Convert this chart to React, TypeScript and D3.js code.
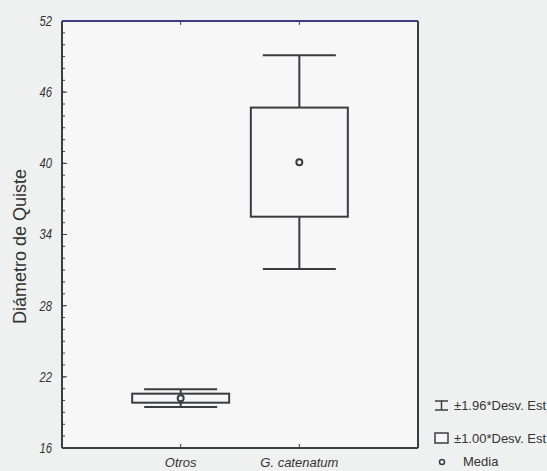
import React from "react";
import * as d3 from "d3";

const categories = ["Otros", "G. catenatum"];
const means = [20.2, 40.1];
const sd = [0.38, 4.6];
const yTicks = [16, 22, 28, 34, 40, 46, 52];
const legendLabels = ["±1.96*Desv. Est", "±1.00*Desv. Est", "Media"];

const W = 547;
const H = 471;
const margin = { top: 21, right: 129, bottom: 23, left: 62 };

export default function App() {
  const x = d3
    .scalePoint<string>()
    .domain(categories)
    .range([margin.left, W - margin.right])
    .padding(1);
  const y = d3
    .scaleLinear()
    .domain([16, 52])
    .range([H - margin.bottom, margin.top]);

  const x0 = margin.left;
  const x1 = W - margin.right;
  const yb = H - margin.bottom;
  const yt = margin.top;
  const minor = d3.range(16, 53, 1);
  const boxW = 97;
  const capW = 73;
  const ink = "#3c3c44";
  const lx = 52;

  return (
    <svg
      width={W}
      height={H}
      style={{ position: "absolute", left: 0, top: 0, background: "#eff1f1" }}
      fontFamily="'Liberation Sans', Arial, sans-serif"
    >
      <rect x={x0} y={yt} width={x1 - x0} height={yb - yt} fill="#f6f7f6" />
      {/* minor ticks, inward */}
      {minor.map((v) => (
        <line key={v} x1={x0} x2={x0 + 3} y1={y(v)} y2={y(v)} stroke={ink} strokeWidth={1} />
      ))}
      {yTicks.map((v) => (
        <g key={v}>
          <line x1={x0} x2={x0 + 5} y1={y(v)} y2={y(v)} stroke={ink} />
          <text
            x={lx}
            y={y(v) + 5}
            textAnchor="end"
            fontSize={15}
            fontStyle="italic"
            fill="#333"
            transform={`translate(${lx},0) scale(0.75,1) translate(${-lx},0)`}
          >
            {v}
          </text>
        </g>
      ))}
      {categories.map((c) => (
        <g key={c}>
          <line x1={x(c)!} x2={x(c)!} y1={yb} y2={yb - 4} stroke={ink} />
          <line x1={x(c)!} x2={x(c)!} y1={yt} y2={yt + 4} stroke={ink} />
          <text
            x={x(c)!}
            y={yb + 19}
            textAnchor="middle"
            fontSize={13}
            fontStyle="italic"
            fill="#333"
          >
            {c}
          </text>
        </g>
      ))}
      {/* frame */}
      <line x1={x0} x2={x0} y1={yt} y2={yb} stroke={ink} strokeWidth={2} />
      <line x1={x0} x2={x1} y1={yb} y2={yb} stroke={ink} strokeWidth={2} />
      <line x1={x1} x2={x1} y1={yt} y2={yb} stroke={ink} strokeWidth={2} />
      <line x1={x0} x2={x1} y1={yt} y2={yt} stroke="#3d3f86" strokeWidth={2} />

      {categories.map((c, i) => {
        const cx = x(c)!;
        const m = means[i];
        const s = sd[i];
        const hi = y(m + 1.96 * s);
        const lo = y(m - 1.96 * s);
        return (
          <g key={c} stroke={ink} fill="none" strokeWidth={2}>
            <line x1={cx} x2={cx} y1={hi} y2={y(m + s)} />
            <line x1={cx} x2={cx} y1={y(m - s)} y2={lo} />
            <line x1={cx - capW / 2} x2={cx + capW / 2} y1={hi} y2={hi} />
            <line x1={cx - capW / 2} x2={cx + capW / 2} y1={lo} y2={lo} />
            <rect
              x={cx - boxW / 2}
              y={y(m + s)}
              width={boxW}
              height={y(m - s) - y(m + s)}
              fill="#f6f7f6"
            />
            {s < 1 && <line x1={cx} x2={cx} y1={y(m + s)} y2={y(m - s)} />}
            <circle cx={cx} cy={y(m)} r={3} fill="#f6f7f6" />
          </g>
        );
      })}

      <text
        transform={`translate(26,${(yt + yb) / 2 + 12}) rotate(-90)`}
        textAnchor="middle"
        fontSize={18}
        fill="#333"
      >
        Diámetro de Quiste
      </text>

      {/* legend */}
      <g stroke={ink} fill="none" strokeWidth={1.5}>
        <line x1={435} x2={448} y1={401} y2={401} />
        <line x1={435} x2={448} y1={410} y2={410} />
        <line x1={441.5} x2={441.5} y1={401} y2={410} />
        <rect x={435} y={433} width={13} height={10} fill="#f6f7f6" />
        <circle cx={442} cy={462} r={2.5} />
      </g>
      {legendLabels.map((t, i) => (
        <text
          key={t}
          x={i === 2 ? 463 : 454}
          y={[410, 443, 466][i]}
          fontSize={13}
          fill="#333"
        >
          {t}
        </text>
      ))}
    </svg>
  );
}
